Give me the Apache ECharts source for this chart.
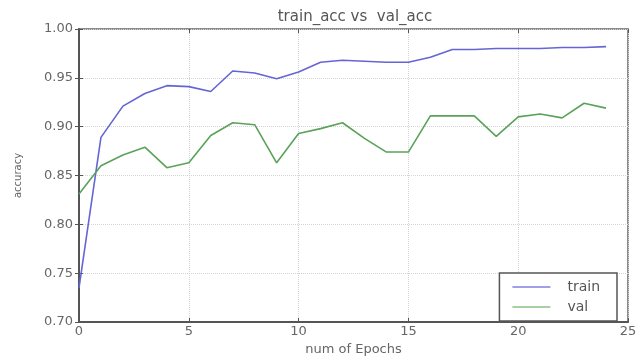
<!DOCTYPE html>
<html><head><meta charset="utf-8">
<script src="https://cdn.jsdelivr.net/npm/echarts@6/dist/echarts.min.js"></script>
<style>html,body{margin:0;padding:0;background:#fff}#c{width:641px;height:361px}</style>
</head><body><div id="c"></div>
<script>
const epochs = [0,1,2,3,4,5,6,7,8,9,10,11,12,13,14,15,16,17,18,19,20,21,22,23,24];
const trainAcc = [0.735,0.889,0.921,0.934,0.942,0.941,0.936,0.957,0.955,0.949,0.956,0.966,0.968,0.967,0.966,0.966,0.971,0.979,0.979,0.980,0.980,0.980,0.981,0.981,0.982];
const valAcc = [0.831,0.860,0.871,0.879,0.858,0.863,0.891,0.904,0.902,0.863,0.893,0.898,0.904,0.888,0.874,0.874,0.911,0.911,0.911,0.890,0.910,0.913,0.909,0.924,0.919];
const xTicks = [0,5,10,15,20,25];
const yTicks = ['0.70','0.75','0.80','0.85','0.90','0.95','1.00'];

const chart = echarts.init(document.getElementById('c'));
const font = 'DejaVu Sans';
chart.setOption({
  animation: false,
  backgroundColor: '#fff',
  title: {
    text: 'train_acc vs  val_acc', left: 350, top: 5, textAlign: 'center',
    textStyle: {fontFamily: font, fontSize: 15, fontWeight: 'normal', color: '#555'}
  },
  grid: {left: 79, right: 13, top: 29, bottom: 35, show: true, borderColor: '#666', borderWidth: 1.5},
  legend: {
    orient: 'vertical', right: 24, bottom: 40,
    itemWidth: 38, itemHeight: 2, itemGap: 6,
    padding: [7, 17, 7, 13],
    borderColor: '#555', borderWidth: 1.5, backgroundColor: '#fff',
    textStyle: {fontFamily: font, fontSize: 14, color: '#555', padding: [0,0,0,12]},
    data: [{name: 'train', icon: 'rect'}, {name: 'val', icon: 'rect'}]
  },
  xAxis: [{
    type: 'value', min: 0, max: 25, interval: 5,
    name: 'num of Epochs', nameLocation: 'middle', nameGap: 21,
    nameTextStyle: {fontFamily: font, fontSize: 13, color: '#666'},
    axisLine: {show: true, lineStyle: {color: '#555', width: 2}},
    axisTick: {show: true, inside: true, length: 4, lineStyle: {color: '#555'}},
    axisLabel: {fontFamily: font, fontSize: 13, color: '#666', margin: 3,
      formatter: v => xTicks.includes(v) ? String(v) : ''},
    splitLine: {show: true, lineStyle: {color: '#d4d4d4', type: 'dotted'}}
  }, {
    type: 'value', min: 0, max: 25, interval: 5, position: 'top',
    axisLine: {show: false}, axisTick: {show: true, inside: true, length: 4, lineStyle: {color: '#555'}},
    axisLabel: {show: false}, splitLine: {show: false}
  }],
  yAxis: [{
    type: 'value', min: 0.70, max: 1.00, interval: 0.05,
    name: 'accuracy', nameLocation: 'middle', nameGap: 56,
    nameTextStyle: {fontFamily: font, fontSize: 10, color: '#666'},
    axisLine: {show: true, lineStyle: {color: '#555', width: 2}},
    axisTick: {show: true, inside: true, length: 4, lineStyle: {color: '#555'}},
    axisLabel: {fontFamily: font, fontSize: 13, color: '#666', margin: 6,
      formatter: v => yTicks[Math.round((v - 0.70) / 0.05)] || ''},
    splitLine: {show: true, lineStyle: {color: '#d4d4d4', type: 'dotted'}}
  }, {
    type: 'value', min: 0.70, max: 1.00, interval: 0.05, position: 'right',
    axisLine: {show: false}, axisTick: {show: true, inside: true, length: 4, lineStyle: {color: '#555'}},
    axisLabel: {show: false}, splitLine: {show: false}
  }],
  series: [
    {name: 'train', type: 'line', showSymbol: false, symbol: 'none', data: epochs.map((e,i)=>[e, trainAcc[i]]),
      lineStyle: {color: '#6565d5', width: 1.6}, itemStyle: {color: '#a0a0e8'}},
    {name: 'val', type: 'line', showSymbol: false, symbol: 'none', data: epochs.map((e,i)=>[e, valAcc[i]]),
      lineStyle: {color: '#5aa25a', width: 1.6}, itemStyle: {color: '#a8d0a8'}}
  ]
});
</script></body></html>
